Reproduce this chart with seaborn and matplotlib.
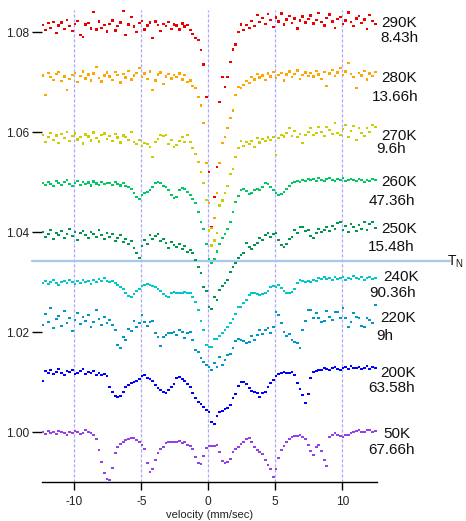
import numpy as np
import pandas as pd
import matplotlib
matplotlib.use("Agg")
import matplotlib.pyplot as plt
import seaborn as sns

# velocity channels (mm/sec)
velocity = np.round(-12.35 + 0.2 * np.arange(125), 2)

temperatures = ['290K', '280K', '270K', '260K', '250K', '240K', '220K', '200K', '50K']
durations = ['8.43h', '13.66h', '9.6h', '47.36h', '15.48h', '90.36h', '9h', '63.58h', '67.66h']
baselines = [1.08106, 1.07086, 1.05886, 1.04966, 1.03946, 1.02986, 1.02186, 1.01186, 0.99986]
colors = ['#ee0000', '#ffa500', '#cccc00', '#00c864', '#009650', '#00c8c8', '#0096c8', '#0000ff', '#9440e8']

# relative transmission of each spectrum, in units of 1e-3
rel_290K = [0.4, -0.6, 0.8, -0.2, 1.0, -1.2, 0.3, 0.9, -0.4, 1.4, 0.2, -0.8, 0.6, 1.2, -1.6, -2.0, 0.5, 0.8, -0.3, 3.0, -0.5, 1.1, -0.2, 0.4, -0.9,
            0.6, 1.3, -0.7, 0.2, 0.9, 3.2, -1.6, 0.5, 2.0, 0.1, -1.0, 0.8, 1.2, -0.5, 0.3, 0.9, -2.2, 1.1, 0.4, -0.8, 0.6, 0.2, 1.0, -0.4, 0.5,
            0.3, -0.5, 0.7, 0.1, 0.4, -0.6, -1.4, -2.2, -2.6, -4.6, -7.5, -14, -29, -40, -34, -28, -15, -10, -12, -10, -7, -4.5, -3.5, -1.0, 0.5,
            -0.6, 0.4, -0.2, 1.2, 0.2, 2.4, 1.0, 1.8, 0.6, 2.6, 1.4, 0.0, 1.9, 1.1, 2.7, 0.5, 1.5, 2.2, 0.8, 1.7, -0.3, 1.3, 2.1, 0.9, 1.6,
            2.3, 0.7, 1.4, 2.8, 1.0, 0.3, 1.8, 2.5, 1.1, -0.2, 1.6, 2.0, 0.6, 1.3, 2.9, 1.0, 0.2, 1.7, 2.2, 0.8, 1.5, -0.4, 2.4, 1.2, 0.6]
rel_280K = [0.5, -3.4, 1.0, 0.2, -0.4, 0.8, 1.2, -0.6, 0.3, -2.4, -0.2, 0.6, 1.0, -0.8, 0.4, 1.3, -0.1, 0.7, -0.5, 0.9, 2.2, 0.0, -0.7, 0.5, 1.1,
            0.3, -0.4, 1.2, 0.6, -0.9, 0.8, 0.1, 1.4, -0.3, 0.5, 1.0, 2.0, 0.2, 0.9, -0.2, 1.3, -2.4, -0.5, 0.7, 1.1, -1.2, 0.3, 0.8, -0.1, 0.6,
            0.2, 0.9, -0.3, 0.6, -0.8, -0.5, -1.6, -2.0, -3.8, -5.5, -9, -17, -25, -30, -28, -23, -17, -13, -11.8, -10, -8, -6.5, -3.4, -1.8, -2.0,
            -1.4, -0.6, -1.0, 0.2, -0.3, 0.8, 0.1, 0.5, -0.4, 0.9, 0.3, 1.2, 0.0, 0.6, 1.0, -0.5, 0.7, 1.3, 0.2, 0.8, 1.5, -0.2, 0.6, 1.1, 0.4,
            1.0, 0.3, 1.4, 0.7, -0.2, 1.2, -1.6, 0.9, 1.6, 0.4, 1.1, 2.0, 0.6, 1.3, 3.0, 0.8, 0.2, -2.0, 1.0, 0.5, 1.4, -0.3, 0.9, 0.4, 1.2]
rel_270K = [0.6, -0.8, 0.2, 1.0, -0.4, 0.5, -1.0, 0.8, 0.0, 1.2, -0.6, 0.4, 0.9, -0.3, 0.2, -1.1, 0.7, 0.3, -0.5, 1.1, 0.0, -0.7, 0.6, 0.9, -0.2,
            0.4, -0.6, 0.8, 0.1, -0.9, 0.5, 0.2, -0.4, 1.2, -0.8, -1.2, -0.4, -1.6, -1.0, -1.2, -1.8, -3.8, -0.8, -0.2, 0.6, 0.4, 0.6, -1.2, -0.4, -1.8,
            -1.4, -0.6, 0.2, -0.8, 0.6, -0.8, -2.0, -3.2, -4.8, -6.8, -9.0, -12.4, -18.5, -21.5, -20.5, -19, -13.5, -12.5, -11, -9.6, -7.2, -6.2, -3.8, -2.0, -0.6,
            -1.6, -0.8, -1.2, -0.6, -1.8, 0.0, -0.9, -0.2, -0.6, 0.1, -0.4, 0.2, -3.4, 0.0, 0.6, 0.3, 1.0, 2.0, 0.4, 1.4, 0.2, 0.8, -1.0, 0.6, 1.2,
            2.0, 0.6, 1.0, 2.2, 1.2, 0.4, 2.2, 1.6, 0.8, 3.0, 1.0, 0.6, 1.8, 2.6, 0.2, 1.4, 2.4, -0.4, 2.0, 1.0, 0.4, 2.0, 1.2, 2.6, 2.2]
rel_260K = [0.2, -0.2, 0.4, 0.0, -0.4, 0.6, 0.2, -0.2, 0.4, 0.8, 0.0, -0.4, 0.2, 0.6, -0.2, 0.4, 0.0, 0.3, -0.3, 0.5, 0.1, -0.2, 0.4, 0.0, 0.2,
            0.2, -0.2, 0.4, 0.0, -0.3, 0.2, -0.4, -0.6, -1.0, -1.8, -2.6, -3.0, -2.2, -1.8, -1.6, -1.2, -0.6, 0.2, 0.4, 0.2, -0.4, -0.6, -1.2, -2.2, -2.8,
            -2.6, -1.2, -0.8, -1.0, -1.6, -2.2, -3.0, -3.8, -5.6, -7.6, -9.0, -12, -15, -15.8, -15, -13.5, -12, -10.8, -10, -9, -7.6, -5.6, -3.6, -2.4, -1.2,
            -1.0, -1.4, -2.0, -1.8, -1.2, -1.0, -1.2, -0.6, 0.2, 0.0, -0.6, -1.2, -1.8, -2.2, -2.0, -1.6, -1.0, -0.4, 0.2, 0.4, 0.6, 0.4, 0.8, 0.6, 1.0,
            0.8, 1.0, 0.6, 1.2, 0.8, 0.6, 1.0, 1.2, 0.8, 0.6, 1.0, 0.8, 1.2, 0.6, 0.8, 1.0, 0.8, 0.6, 1.0, 0.8, 0.4, 0.8, 0.6, 1.0, 0.8]
rel_250K = [0.6, -0.4, 0.2, 1.0, -0.8, 0.4, 0.0, 0.8, -0.6, 0.2, 1.2, -0.2, 0.6, -1.0, 0.4, 0.8, 0.0, -0.6, 0.6, 0.2, -0.4, 1.0, 0.0, -0.8, 0.4,
            -0.4, 0.2, -1.2, -0.6, 0.0, -1.4, -0.8, -1.8, -1.2, -2.6, -3.6, -4.6, -2.2, -1.0, -1.8, 0.0, -0.8, -0.2, 0.2, -1.2, -0.8, -1.6, -2.6, -1.4, -2.0,
            -2.4, -1.8, -2.8, -2.2, -3.4, -3.0, -3.6, -5.0, -6.4, -7.6, -10.4, -11.2, -14.4, -14.8, -12.4, -13.0, -11.0, -10.2, -9.6, -9.0, -7.4, -6.4, -5.6, -4.6, -4.0,
            -3.6, -1.6, -2.4, -2.8, -2.0, -1.6, -0.6, -1.0, 0.0, 0.4, -0.4, 0.2, 0.4, -1.0, -2.0, -2.4, -1.8, -0.8, -0.4, 1.0, 0.4, 1.6, 1.6, 0.8, 1.0,
            -0.2, -0.6, 0.4, 1.2, 0.6, 1.0, 1.6, 0.8, 1.8, 1.2, 2.4, 2.6, 1.0, 1.8, 0.6, 2.2, 1.6, 0.8, 2.0, 1.2, 2.6, 1.0, 2.2, 2.6, 1.4]
rel_240K = [0.0, 0.4, -0.2, 0.2, 0.6, 0.0, -0.4, 0.2, 0.4, 0.0, 0.6, 0.2, -0.2, 0.4, 0.0, 0.6, 0.2, 0.4, -0.2, 0.6, 0.2, 0.8, 0.4, 1.0, 0.4,
            0.2, 0.4, 0.0, -0.4, -0.8, -1.2, -2.0, -2.6, -2.8, -2.2, -1.6, -1.2, -0.6, -0.4, -0.2, -0.4, -0.6, -0.8, -1.2, -1.6, -2.2, -2.6, -2.8, -2.0, -1.8,
            -2.0, -2.0, -2.0, -1.8, -2.0, -2.0, -2.8, -3.8, -5.4, -7.6, -9.4, -12.4, -12.8, -12.8, -11.2, -11.2, -10.6, -10.0, -9.4, -8.8, -8.0, -7.2, -6.2, -4.8, -4.8,
            -4.0, -3.4, -2.4, -2.0, -2.0, -2.2, -2.4, -2.2, -2.0, -1.6, -0.8, -0.6, -0.8, -0.4, -1.0, -1.6, -2.0, -2.0, -1.8, -1.2, 0.0, 0.6, 0.4, 0.2, 0.4,
            0.2, 0.6, 0.4, 1.0, 0.8, 1.2, 0.8, 1.0, 0.6, 1.2, 0.8, 1.0, 1.2, 0.6, 1.0, 0.8, 1.4, 1.0, 0.8, 1.2, 0.6, 1.0, 1.2, 0.8, 1.0]
rel_220K = [-0.4, 1.8, 0.2, 3.0, -1.0, 0.8, 1.4, -0.6, 2.4, 0.0, 1.0, -1.6, 0.6, 2.0, -0.2, 1.2, 0.4, 1.6, -0.8, 0.2, 2.6, 0.8, -0.4, 1.2, 0.0,
            0.6, -0.4, -1.4, -4.4, -5.0, -2.8, -3.4, -1.2, -1.6, 0.4, -0.8, 0.0, 1.6, 0.2, -0.6, 0.2, 0.4, -2.0, -2.8, -4.6, -2.8, -2.4, -2.0, -2.0, -1.8,
            -2.4, -1.4, -1.8, -3.0, -2.0, -1.8, -3.4, -5.4, -5.8, -7.0, -7.8, -8.4, -8.8, -9.4, -8.0, -8.8, -6.8, -8.4, -7.4, -6.4, -6.2, -5.0, -3.6, -3.2, -3.4,
            -3.6, -4.0, -3.8, -2.6, -3.4, -2.4, -1.4, -2.2, -1.4, -1.0, -2.0, -0.8, 2.2, 1.6, 0.0, -1.8, -2.6, -2.2, -3.4, -3.8, -4.0, -5.0, -1.4, 0.4, 2.6,
            2.6, 1.0, 2.0, 1.0, 0.2, 0.4, 2.4, 1.2, 0.6, 2.2, 2.2, 1.0, 3.0, 1.0, -0.8, 0.2, 2.0, 1.2, 1.0, -0.6, -0.8, 1.0, 0.6, 0.0, 3.6]
rel_200K = [-1.6, 0.4, 0.0, 0.6, -0.2, 0.2, 0.8, 0.0, -0.4, 0.4, 0.2, 0.6, -0.2, 0.0, 0.4, 0.8, -0.2, 0.2, 0.0, 0.4, -0.4, 0.0, -0.4, -0.2, -0.6,
            -2.8, -3.8, -4.6, -4.8, -4.6, -3.8, -2.8, -2.4, -2.0, -1.8, -1.6, -1.2, -0.6, -0.4, -1.0, -1.2, -1.6, -2.4, -3.0, -3.4, -3.8, -4.0, -3.4, -2.8, -2.2,
            -1.0, -0.8, -1.2, -1.6, -2.2, -2.8, -4.0, -5.0, -5.8, -6.2, -6.8, -7.4, -7.8, -9.8, -10.2, -8.6, -7.8, -7.6, -7.2, -7.0, -6.4, -5.0, -4.2, -2.6, -1.8,
            -1.8, -2.2, -3.0, -3.6, -3.8, -4.0, -4.8, -4.0, -3.8, -2.8, -2.0, -1.4, -0.6, -0.2, 0.0, 0.2, 0.0, 0.0, 0.2, -0.4, -2.0, -3.2, -4.4, -6.0, -4.2,
            -1.0, 0.2, 0.4, 0.6, 0.6, 1.0, 0.8, 0.6, 1.0, 1.2, 0.8, 0.6, 1.0, 1.2, 0.8, 1.4, 1.0, 1.0, 1.2, 0.8, 1.0, 1.4, 0.8, 1.2, 1.0]
rel_50K = [0.2, -0.2, 0.4, 0.0, 0.2, -0.2, 0.4, 0.2, 0.0, -0.4, 0.2, 0.0, 0.4, 0.2, -0.2, 0.0, 0.6, 0.2, 0.0, -0.4, -1.2, -3.4, -5.8, -8.0, -9.2,
           -9.4, -7.0, -4.0, -2.8, -2.2, -1.8, -1.4, -1.2, -1.0, -1.0, -1.4, -1.8, -2.4, -3.2, -6.0, -7.8, -7.2, -5.4, -4.0, -3.2, -2.8, -2.0, -1.8, -1.8, -1.8,
           -1.8, -1.6, -2.0, -1.8, -2.4, -2.6, -3.2, -4.8, -6.0, -6.2, -4.6, -3.0, -2.6, -2.6, -2.6, -2.4, -3.8, -5.6, -6.0, -5.8, -5.2, -3.8, -3.2, -2.8, -2.2,
           -1.8, -1.2, -1.0, -1.8, -2.8, -3.4, -3.8, -4.2, -5.4, -6.4, -7.2, -8.8, -7.2, -5.0, -3.4, -2.6, -1.8, -1.2, -0.8, -0.6, -0.6, -0.4, -0.8, -1.2, -2.4,
           -3.6, -4.4, -2.8, -2.4, -3.6, -5.4, -6.6, -0.8, -0.4, 0.0, -0.4, -0.6, -0.8, -0.4, -0.4, 0.0, 0.2, 0.4, 0.6, 0.2, 0.2, 0.6, 0.6, 0.2, 0.4]

spectra = [rel_290K, rel_280K, rel_270K, rel_260K, rel_250K, rel_240K, rel_220K, rel_200K, rel_50K]

ytick_values = [1.00, 1.02, 1.04, 1.06, 1.08]
ytick_labels = ['1.00', '1.02', '1.04', '1.06', '1.08']
xtick_values = [-10, -5, 0, 5, 10]
xtick_labels = ['-10', '-5', '0', '5', '10']
TN_level = 1.0343

frames = []
for temp, base, rel in zip(temperatures, baselines, spectra):
    frames.append(pd.DataFrame({'velocity': velocity,
                                'transmission': base + np.asarray(rel) / 1000.0,
                                'temperature': temp}))
df = pd.concat(frames, ignore_index=True)

sns.set_theme(style='ticks')
plt.rcParams['font.family'] = ['Liberation Sans', 'DejaVu Sans']
plt.rcParams['mathtext.default'] = 'regular'

fig = plt.figure(figsize=(4.66, 5.21), dpi=100)
ax = fig.add_axes([0.0895, 0.0743, 0.7195, 0.9065])

for xv in xtick_values:
    ax.axvline(xv, color='#a8a8ff', lw=0.9, ls=(0, (2.5, 1.5)), zorder=0)

ax.axhline(TN_level, xmin=-0.029, xmax=1.218, color='#a6c8ea', lw=1.6,
           clip_on=False, zorder=1)

palette = dict(zip(temperatures, colors))
sns.scatterplot(data=df, x='velocity', y='transmission', hue='temperature',
                palette=palette, marker='s', s=4, linewidth=0, legend=False,
                ax=ax, zorder=2)

ax.set_xlim(-12.43, 12.59)
ax.set_ylim(0.9900, 1.08446)

ax.set_yticks(ytick_values)
ax.set_yticklabels(ytick_labels)
ax.set_xticks(xtick_values)
ax.set_xticklabels(xtick_labels)

for side in ['top', 'right', 'left']:
    ax.spines[side].set_visible(False)
ax.spines['bottom'].set_color('black')
ax.spines['bottom'].set_linewidth(1.0)

ax.tick_params(axis='y', length=7.2, width=1, color='black', pad=2,
               labelsize=8.6, labelcolor='#222222', direction='out')
ax.tick_params(axis='x', length=5.8, width=1, color='black', pad=3.8,
               labelsize=8.6, labelcolor='#222222', direction='out')
ax.set_xlabel('velocity (mm/sec)', fontsize=8, color='#222222', labelpad=1.5)
ax.set_ylabel('')

# temperature / duration labels (positions in data coordinates)
temp_pos = [(12.89, 1.08186), (12.89, 1.07092), (12.89, 1.05932), (12.89, 1.05012),
            (12.89, 1.04060), (13.04, 1.03112), (12.81, 1.02286), (12.87, 1.01180),
            (13.09, 0.99960)]
time_pos = [(12.87, 1.07886), (12.22, 1.06712), (12.51, 1.05660), (11.97, 1.04626),
            (11.92, 1.03700), (11.99, 1.02792), (12.51, 1.01926), (11.92, 1.00880),
            (11.92, 0.99646)]
for t, d, (tx, ty), (dx, dy) in zip(temperatures, durations, temp_pos, time_pos):
    ax.text(tx, ty, t, fontsize=11, color='#111111', ha='left', va='center', clip_on=False)
    ax.text(dx, dy, d, fontsize=11, color='#111111', ha='left', va='center', clip_on=False)

ax.text(17.85, TN_level - 0.0002, r'T$_{N}$', fontsize=10, color='#111111',
        ha='left', va='center', clip_on=False)

fig.savefig('out.png', dpi=100)
